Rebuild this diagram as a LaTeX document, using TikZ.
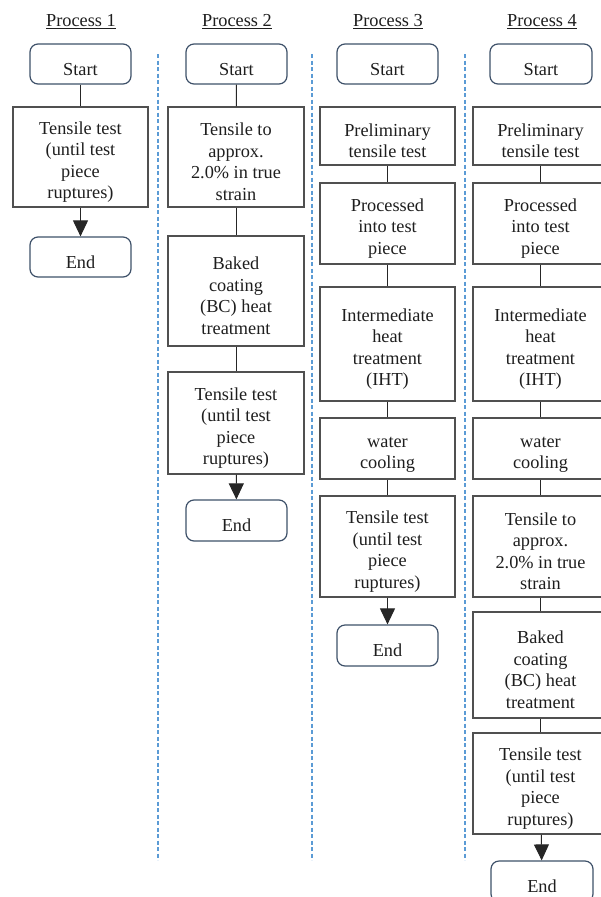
\documentclass[tikz,border=0pt]{standalone}
\usepackage{fontspec}
\setmainfont{Liberation Serif}
\usetikzlibrary{arrows.meta}
\definecolor{boxline}{HTML}{505050}
\definecolor{termline}{HTML}{3E5169}
\definecolor{txt}{HTML}{1E1E1E}
\definecolor{sep}{HTML}{5B9BD5}
\newcommand{\lowstrut}{\rule{0pt}{22.5pt}}
\begin{document}
\begin{tikzpicture}[x=1pt,y=-1pt,
  every node/.style={font=\fontsize{18.3}{21.5}\selectfont, text=txt, inner sep=0pt},
  stepbox/.style={draw=boxline, line width=1.2pt, minimum width=135pt, align=center},
  termbox/.style={draw=termline, line width=1.2pt, rounded corners=8pt, minimum width=101pt, minimum height=40pt},
  title/.style={},
  link/.style={draw=black!85, line width=1pt},
  arrowlink/.style={link, -{Triangle[width=15pt,length=16pt]}},
  sepline/.style={draw=sep, line width=1.3pt, dash pattern=on 4pt off 2.5pt}]
\useasboundingbox (0,0) rectangle (600,897);

% titles
\node[title] (t1) at (81,22) {\underline{Process 1}};
\node[title] (t2) at (237,22) {\underline{Process 2}};
\node[title] (t3) at (388,22) {\underline{Process 3}};
\node[title] (t4) at (542,22) {\underline{Process 4}};

% separators
\coordinate (s1a) at (158,54); \coordinate (s1b) at (158,860);
\coordinate (s2a) at (312,54); \coordinate (s2b) at (312,860);
\coordinate (s3a) at (465,54); \coordinate (s3b) at (465,860);
\draw[sepline] (s1a) -- (s1b);
\draw[sepline] (s2a) -- (s2b);
\draw[sepline] (s3a) -- (s3b);

% Process 1
\node[termbox] (p1s) at (80.5,64) {\lowstrut Start};
\node[stepbox, minimum height=100pt] (p1a) at (80.5,157) {\lowstrut Tensile test\\(until test\\piece\\ruptures)};
\node[termbox] (p1e) at (80.5,257) {\lowstrut End};
\draw[link] (p1s) -- (p1a);
\draw[arrowlink] (p1a) -- (p1e);

% Process 2
\node[termbox] (p2s) at (236.5,64) {\lowstrut Start};
\node[stepbox, minimum width=136pt, minimum height=100pt] (p2a) at (236,157) {\lowstrut Tensile to\\approx.\\2.0\% in true\\strain};
\node[stepbox, minimum width=136pt, minimum height=110pt] (p2b) at (236,291) {\lowstrut Baked\\coating\\(BC) heat\\treatment};
\node[stepbox, minimum width=136pt, minimum height=102pt] (p2c) at (236,423) {\lowstrut Tensile test\\(until test\\piece\\ruptures)};
\node[termbox, minimum height=41pt] (p2e) at (236.5,520.5) {\lowstrut End};
\draw[link] (p2s) -- (p2a);
\draw[link] (p2a) -- (p2b);
\draw[link] (p2b) -- (p2c);
\draw[arrowlink] (p2c) -- (p2e);

% Process 3
\node[termbox] (p3s) at (387.5,64) {\lowstrut Start};
\node[stepbox, minimum height=58pt] (p3a) at (387.5,136) {\lowstrut Preliminary\\tensile test};
\node[stepbox, minimum height=81pt] (p3b) at (387.5,223.5) {\lowstrut Processed\\into test\\piece};
\node[stepbox, minimum height=114pt] (p3c) at (387.5,344) {\lowstrut Intermediate\\heat\\treatment\\(IHT)};
\node[stepbox, minimum height=61pt] (p3d) at (387.5,448.5) {\lowstrut water\\cooling};
\node[stepbox, minimum height=101pt] (p3f) at (387.5,546.5) {\lowstrut Tensile test\\(until test\\piece\\ruptures)};
\node[termbox, minimum height=41pt] (p3e) at (387.5,645.5) {\lowstrut End};
\draw[link] (p3a) -- (p3b);
\draw[link] (p3b) -- (p3c);
\draw[link] (p3c) -- (p3d);
\draw[link] (p3d) -- (p3f);
\draw[arrowlink] (p3f) -- (p3e);

% Process 4
\node[termbox, minimum width=102pt] (p4s) at (541,64) {\lowstrut Start};
\node[stepbox, minimum height=58pt] (p4a) at (540.5,136) {\lowstrut Preliminary\\tensile test};
\node[stepbox, minimum height=81pt] (p4b) at (540.5,223.5) {\lowstrut Processed\\into test\\piece};
\node[stepbox, minimum height=114pt] (p4c) at (540.5,344) {\lowstrut Intermediate\\heat\\treatment\\(IHT)};
\node[stepbox, minimum height=61pt] (p4d) at (540.5,448.5) {\lowstrut water\\cooling};
\node[stepbox, minimum height=101pt] (p4f) at (540.5,546.5) {\lowstrut Tensile to\\approx.\\2.0\% in true\\strain};
\node[stepbox, minimum height=106pt] (p4g) at (540.5,665) {\lowstrut Baked\\coating\\(BC) heat\\treatment};
\node[stepbox, minimum height=101pt] (p4h) at (540.5,783.5) {\lowstrut Tensile test\\(until test\\piece\\ruptures)};
\node[termbox, minimum width=102pt, minimum height=41pt] (p4e) at (542,881.5) {\lowstrut End};
\draw[link] (p4a) -- (p4b);
\draw[link] (p4b) -- (p4c);
\draw[link] (p4c) -- (p4d);
\draw[link] (p4d) -- (p4f);
\draw[link] (p4f) -- (p4g);
\draw[link] (p4g) -- (p4h);
\draw[arrowlink] (p4h) -- (p4e);
\end{tikzpicture}
\end{document}
